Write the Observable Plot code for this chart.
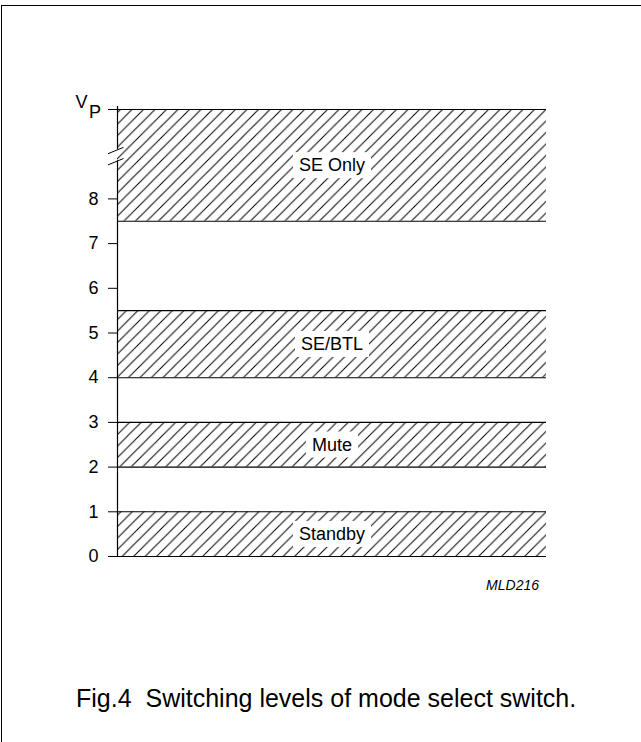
<!DOCTYPE html>
<html><head><meta charset="utf-8">
<script src="https://cdn.jsdelivr.net/npm/d3@7"></script>
<script src="https://cdn.jsdelivr.net/npm/@observablehq/plot@0.6"></script>
<style>
body{margin:0;background:#fff;}
#wrap{position:relative;width:641px;height:742px;overflow:hidden;font-family:"Liberation Sans",Arial,sans-serif;color:#000;}
#frame{position:absolute;left:1px;top:5px;width:700px;height:800px;border-left:1.5px solid #000;border-top:1.5px solid #000;}
#chart{position:absolute;left:0;top:0;}
#code{position:absolute;right:102px;top:577px;font-size:14px;font-style:italic;line-height:normal;}
#caption{position:absolute;left:76px;top:684px;font-size:25px;white-space:pre;line-height:normal;}
</style></head>
<body><div id="wrap"><div id="frame"></div><div id="chart"></div><div id="code">MLD216</div><div id="caption">Fig.4  Switching levels of mode select switch.</div></div>
<script>
// ---- data ----
const bandLabels = ["Standby", "Mute", "SE/BTL", "SE Only"];
const bandLow = [0, 2, 4, 7.5];
const bandHigh = [1, 3, 5.5, 10];
const tickValues = [0, 1, 2, 3, 4, 5, 6, 7, 8];
const tickLabels = ["0", "1", "2", "3", "4", "5", "6", "7", "8"];
const vpValue = 10;            // supply level V_P (top of the scale)
const breakValues = [8.85, 9.10]; // axis break

const bands = bandLabels.map((label, i) => ({label, lo: bandLow[i], hi: bandHigh[i]}));
const edges = Array.from(new Set([...bandLow, ...bandHigh]));

const W = 641, H = 640, mL = 117, mR = 95, mT = 109, mB = 84;
const pxX = (W - mL - mR);          // px per x unit
const pxY = (H - mT - mB) / vpValue; // px per y unit

const svg = Plot.plot({
  width: W, height: H,
  marginLeft: mL, marginRight: mR, marginTop: mT, marginBottom: mB,
  style: {fontFamily: "'Liberation Sans', Arial, sans-serif", fontSize: "18px", background: "transparent", overflow: "visible"},
  x: {domain: [0, 1], axis: null},
  y: {domain: [0, vpValue]},
  marks: [
    Plot.rect(bands, {x1: 0, x2: 1, y1: "lo", y2: "hi", fill: "url(#hatch)"}),
    Plot.ruleY(edges, {y: d => d, x1: 0, x2: 1, stroke: "#000", strokeWidth: 1.1}),
    Plot.axisY({
      ticks: [...tickValues, vpValue],
      tickFormat: d => { const i = tickValues.indexOf(d); return i >= 0 ? tickLabels[i] : ""; },
      tickSize: 9, tickPadding: 10, fontSize: 18, label: null, stroke: "#000", strokeOpacity: 1
    }),
    // axis line with a break
    Plot.ruleX([0], {y1: 0, y2: breakValues[0], stroke: "#000", strokeWidth: 1.2}),
    Plot.ruleX([0], {y1: breakValues[1], y2: vpValue + 3 / pxY, stroke: "#000", strokeWidth: 1.2}),
    Plot.link(breakValues, {
      x1: -9.5 / pxX, x2: 6 / pxX,
      y1: d => d - 4 / pxY, y2: d => d + 2.4 / pxY,
      stroke: "#000", strokeWidth: 1
    }),
    // V_P label
    Plot.text([vpValue], {x: 0, y: d => d, text: () => "V", dx: -36, dy: -7, fontSize: 18, fill: "#000"}),
    Plot.text([vpValue], {x: 0, y: d => d, text: () => "P", dx: -22.5, dy: 2.5, fontSize: 18, fill: "#000"}),
    // band labels
    Plot.text(bands, {x: () => 0.5, y: d => (d.lo + d.hi) / 2, text: "label", fontSize: 18, fill: "#000"})
  ]
});

document.getElementById("chart").appendChild(svg);

// hatch pattern
const s = 11.5;
const defs = d3.select(svg).insert("defs", ":first-child");
defs.append("pattern").attr("id", "hatch").attr("patternUnits", "userSpaceOnUse")
  .attr("width", s).attr("height", s)
  .append("path")
  .attr("d", `M0,${s} L${s},0 M-1,1 L1,-1 M${s - 1},${s + 1} L${s + 1},${s - 1}`)
  .attr("stroke", "#000").attr("stroke-width", 1).attr("fill", "none");

// white boxes behind band labels
const labelSet = new Set(bandLabels);
svg.querySelectorAll("text").forEach(t => {
  if (!labelSet.has(t.textContent)) return;
  const b = t.getBBox();
  const padX = 6, padY = 3;
  const r = document.createElementNS("http://www.w3.org/2000/svg", "rect");
  r.setAttribute("x", b.x - padX);
  r.setAttribute("y", b.y - padY);
  r.setAttribute("width", b.width + 2 * padX);
  r.setAttribute("height", b.height + 2 * padY);
  r.setAttribute("fill", "#fff");
  const tr = t.getAttribute("transform");
  if (tr) r.setAttribute("transform", tr);
  t.parentNode.insertBefore(r, t);
});
</script>
</body></html>
